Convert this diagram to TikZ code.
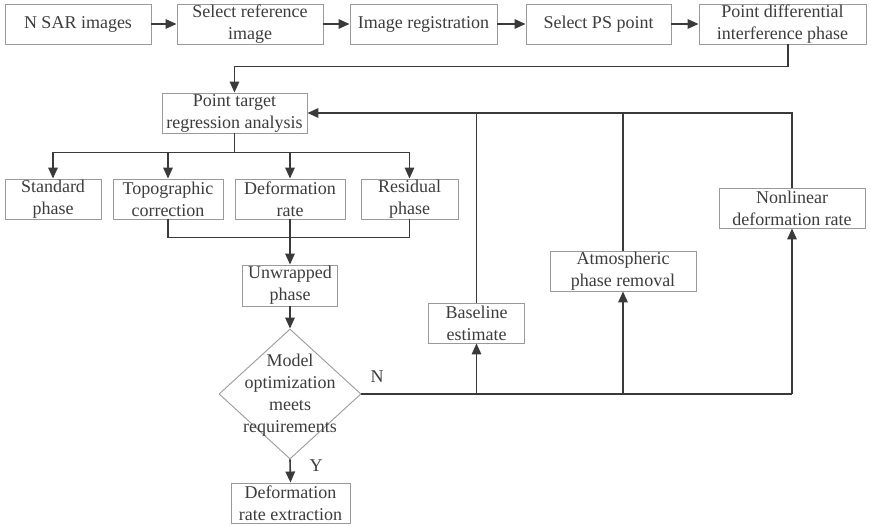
\documentclass[tikz,border=0pt]{standalone}
\usepackage{fontspec}
\setmainfont{Liberation Serif}
\usetikzlibrary{shapes.geometric,arrows.meta}
\definecolor{linec}{HTML}{3A3A3A}
\definecolor{boxc}{HTML}{9A9A9A}
\definecolor{txtc}{HTML}{3C3C3C}
\begin{document}
\begin{tikzpicture}[x=1pt,y=-1pt,
  box/.style={draw=boxc,line width=0.9pt,text=txtc,align=center,inner sep=0pt,
    minimum height=40pt,font=\fontsize{18}{22}\selectfont},
  lbl/.style={text=txtc,align=center,inner sep=0pt,font=\fontsize{18}{22}\selectfont},
  conn/.style={draw=linec,line width=1.6pt},
  arr/.style={conn,-{Triangle[length=11pt,width=9.5pt]}}]
\useasboundingbox (0,0) rectangle (871,526);
% top row
\node[box,minimum width=146pt] (n1) at (78,24) {N SAR images};
\node[box,minimum width=146pt] (n2) at (250,24) {Select reference\\image};
\node[box,minimum width=147pt] (n3) at (423.5,24) {Image registration};
\node[box,minimum width=145pt] (n4) at (598.5,24) {Select PS point};
\node[box,minimum width=167pt] (n5) at (782.5,24) {Point differential\\interference phase};
\draw[arr] (n1) -- (n2);
\draw[arr] (n2) -- (n3);
\draw[arr] (n3) -- (n4);
\draw[arr] (n4) -- (n5);
% regression
\node[box,minimum width=145pt] (pt) at (234.5,113) {Point target\\regression analysis};
\draw[arr] ([xshift=5.5pt]n5.south) -- ++(0,22) -| (pt.north);
% four components
\node[box,minimum width=96pt] (sp) at (53,199) {Standard\\phase};
\node[box,minimum width=110pt] (tc) at (168,199) {Topographic\\correction};
\node[box,minimum width=110pt] (dr) at (290,199) {Deformation\\rate};
\node[box,minimum width=97pt] (rp) at (409.5,199) {Residual\\phase};
\draw[conn] (pt.south) -- ++(0,19) coordinate (b0);
\draw[conn] (sp.north |- b0) -- (rp.north |- b0);
\draw[arr] (sp.north |- b0) -- (sp.north);
\draw[arr] (tc.north |- b0) -- (tc.north);
\draw[arr] (dr.north |- b0) -- (dr.north);
\draw[arr] (rp.north |- b0) -- (rp.north);
% unwrapped
\node[box,minimum width=95pt,minimum height=41pt] (uw) at (290,285.5) {Unwrapped\\phase};
\draw[conn] (tc.south) -- ++(0,18) -| (rp.south);
\draw[arr] (dr.south) -- (uw.north);
% decision
\node[draw=boxc,line width=0.9pt,diamond,minimum width=142pt,minimum height=130pt,inner sep=0pt] (dm) at (290,394) {};
\node[lbl] (dmt) at (290,395) {Model\\optimization\\meets\\requirements};
\draw[arr] (uw.south) -- (dm.north);
\node[box,minimum width=119pt] (de) at (290.5,503) {Deformation\\rate extraction};
\draw[arr] (dm.south) -- (de.north);
\node[lbl] (ylab) at (316,466) {Y};
\node[lbl] (nlab) at (377,377) {N};
% correction boxes
\node[box,minimum width=96pt] (bl) at (476.5,323) {Baseline\\estimate};
\node[box,minimum width=146pt] (ap) at (623,271) {Atmospheric\\phase removal};
\node[box,minimum width=146pt] (nl) at (792,208) {Nonlinear\\deformation rate};
\draw[conn] (dm.east) -- (nl.south |- dm.east);
\draw[arr] (bl.south |- dm.east) -- (bl.south);
\draw[arr] (ap.south |- dm.east) -- (ap.south);
\draw[arr] (nl.south |- dm.east) -- (nl.south);
% feedback
\draw[arr] (nl.north) |- (pt.east);
\draw[conn] (bl.north) -- (bl.north |- pt.east);
\draw[conn] (ap.north) -- (ap.north |- pt.east);
\end{tikzpicture}
\end{document}
